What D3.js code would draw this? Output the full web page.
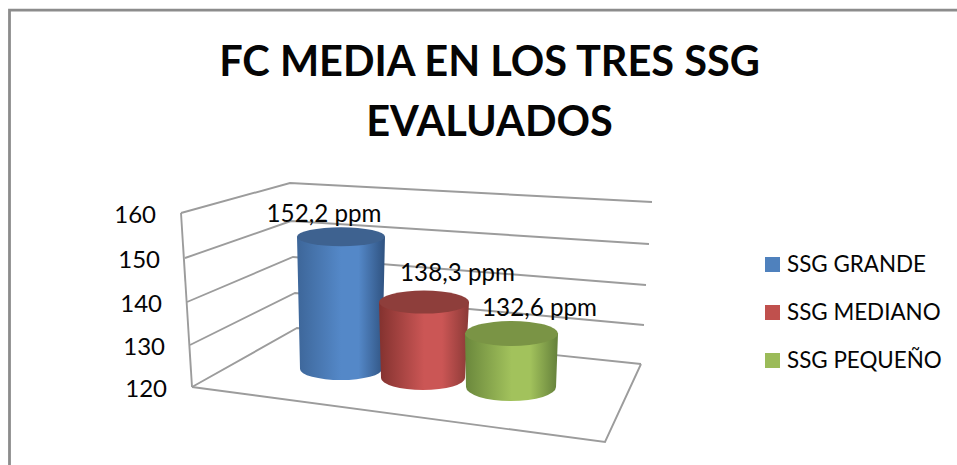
<!DOCTYPE html>
<html><head><meta charset="utf-8">
<script src="https://cdn.jsdelivr.net/npm/d3@7"></script>
<style>html,body{margin:0;padding:0;background:#fff;overflow:hidden}svg{display:block}text{font-family:Lato,"Open Sans",sans-serif;fill:#050505}</style>
</head><body><div id="c"></div>
<script>
const titleLines = ["FC MEDIA EN LOS TRES SSG", "EVALUADOS"];
const categories = ["SSG GRANDE", "SSG MEDIANO", "SSG PEQUEÑO"];
const values = [152.2, 138.3, 132.6];
const valueLabels = ["152,2 ppm", "138,3 ppm", "132,6 ppm"];
const ticks = [120, 130, 140, 150, 160];

const W = 957, H = 465;
const svg = d3.select("#c").append("svg").attr("width", W).attr("height", H);

// Perspective box: each wall edge is a scale from axis value to pixel
const edge = (x, y) => ({
  x: d3.scaleLinear().domain(ticks).range(x),
  y: d3.scaleLinear().domain(ticks).range(y)
});
const front = edge([192, 190, 187, 185, 181], [387, 345, 302, 258, 213]);
const back  = edge([297, 295, 293, 291, 290], [328, 293, 257, 221, 183]);
const right = edge([641, 644, 646, 649, 652], [364, 325, 285, 244, 202]);
const floorFront = [605, 442];
const gridColor = "#9c9c9c";

const pt = (e, v) => [e.x(v), e.y(v)];
const line = d3.line();
const grid = svg.append("g").attr("fill", "none").attr("stroke", gridColor).attr("stroke-width", 1.9);
grid.selectAll("path.g").data(ticks).join("path").attr("class", "g")
  .attr("d", v => line([pt(front, v), pt(back, v), pt(right, v)]));
grid.append("path").attr("d", line([pt(front, 120), pt(front, 160)]));
grid.append("path").attr("d", line([pt(front, 120), floorFront, pt(right, 120)]));

svg.append("g").selectAll("text").data(ticks).join("text")
  .attr("x", v => front.x(v) - 25).attr("y", v => front.y(v) + 9.5)
  .attr("text-anchor", "end").attr("font-size", 24).text(v => v);

// Cylinders
const baseColor = d3.scaleOrdinal(categories, ["#4f81bd", "#c0504d", "#9bbb59"]);
const leftColor = d3.scaleOrdinal(categories, ["#3d6699", "#83322f", "#6a873c"]);
const rightColor = d3.scaleOrdinal(categories, ["#2f5280", "#8a3936", "#64803a"]);
const midColor  = d3.scaleOrdinal(categories, ["#5488c8", "#cb5655", "#a2c25c"]);
const capColor  = d3.scaleOrdinal(categories, ["#3e6290", "#8e3e3b", "#7a9445"]);
const cxBase = d3.scaleOrdinal(categories, [341, 423, 511]);
const rxBase = d3.scaleOrdinal(categories, [41, 42, 45]);
const ryBase = d3.scaleOrdinal(categories, [11, 12, 14]);
const cyBase = d3.scaleOrdinal(categories, [369, 378, 387]);
const cxTop = d3.scaleOrdinal(categories, [341, 424, 511.5]);
const rxTop = d3.scaleOrdinal(categories, [44, 45, 46.5]);
const ryTop = d3.scaleOrdinal(categories, [9.5, 11.5, 12.5]);
const unit = d3.scaleOrdinal(categories, [4.11, 4.15, 4.25]);
const yBar = c => d3.scaleLinear().domain([120, 160]).range([cyBase(c), cyBase(c) - 40 * unit(c)]);

const defs = svg.append("defs");
categories.forEach((c, i) => {
  const g = defs.append("linearGradient").attr("id", "g" + i);
  [[0, leftColor(c)], [0.5, midColor(c)], [0.7, midColor(c)], [1, rightColor(c)]].forEach(([o, col]) =>
    g.append("stop").attr("offset", o).attr("stop-color", col));
});

const bars = svg.append("g");
categories.forEach((c, i) => {
  const yt = yBar(c)(values[i]), yb = cyBase(c);
  const xt = cxTop(c), rt = rxTop(c), xb = cxBase(c), rb = rxBase(c);
  const g = bars.append("g");
  g.append("path").attr("fill", `url(#g${i})`)
    .attr("d", `M${xt - rt},${yt}L${xb - rb},${yb}A${rb},${ryBase(c)} 0 0 0 ${xb + rb},${yb}L${xt + rt},${yt}Z`);
  g.append("ellipse").attr("cx", xt).attr("cy", yt).attr("rx", rt).attr("ry", ryTop(c)).attr("fill", capColor(c));
});

// Data labels
const labelX = d3.scaleOrdinal(categories, [324, 457.5, 539.5]);
const labelY = d3.scaleOrdinal(categories, [222, 281, 316]);
svg.append("g").selectAll("text").data(categories).join("text")
  .attr("x", labelX).attr("y", labelY)
  .attr("text-anchor", "middle").attr("font-size", 24.2).text((c, i) => valueLabels[i]);

// Title
svg.append("g").selectAll("text").data(titleLines).join("text")
  .attr("x", 489.5).attr("y", (d, i) => 76 + i * 59.5)
  .attr("text-anchor", "middle").attr("font-size", 41.5).attr("font-weight", 700).text(d => d);

// Legend
const legY = d3.scalePoint().domain(categories).range([264.5, 360.5]);
const leg = svg.append("g").selectAll("g").data(categories).join("g")
  .attr("transform", c => `translate(765,${legY(c)})`);
leg.append("rect").attr("x", 0).attr("y", -7.5).attr("width", 15).attr("height", 15).attr("fill", baseColor);
leg.append("text").attr("x", 22).attr("y", 7.5).attr("font-size", 22.4).text(c => c);

// Chart frame (cropped at the right and bottom of the picture)
svg.append("path").attr("fill", "none").attr("stroke", "#8c8c8c").attr("stroke-width", 2.8)
  .attr("d", line([[9.5, H], [9.5, 10.2], [W, 10.2]]));
</script></body></html>
